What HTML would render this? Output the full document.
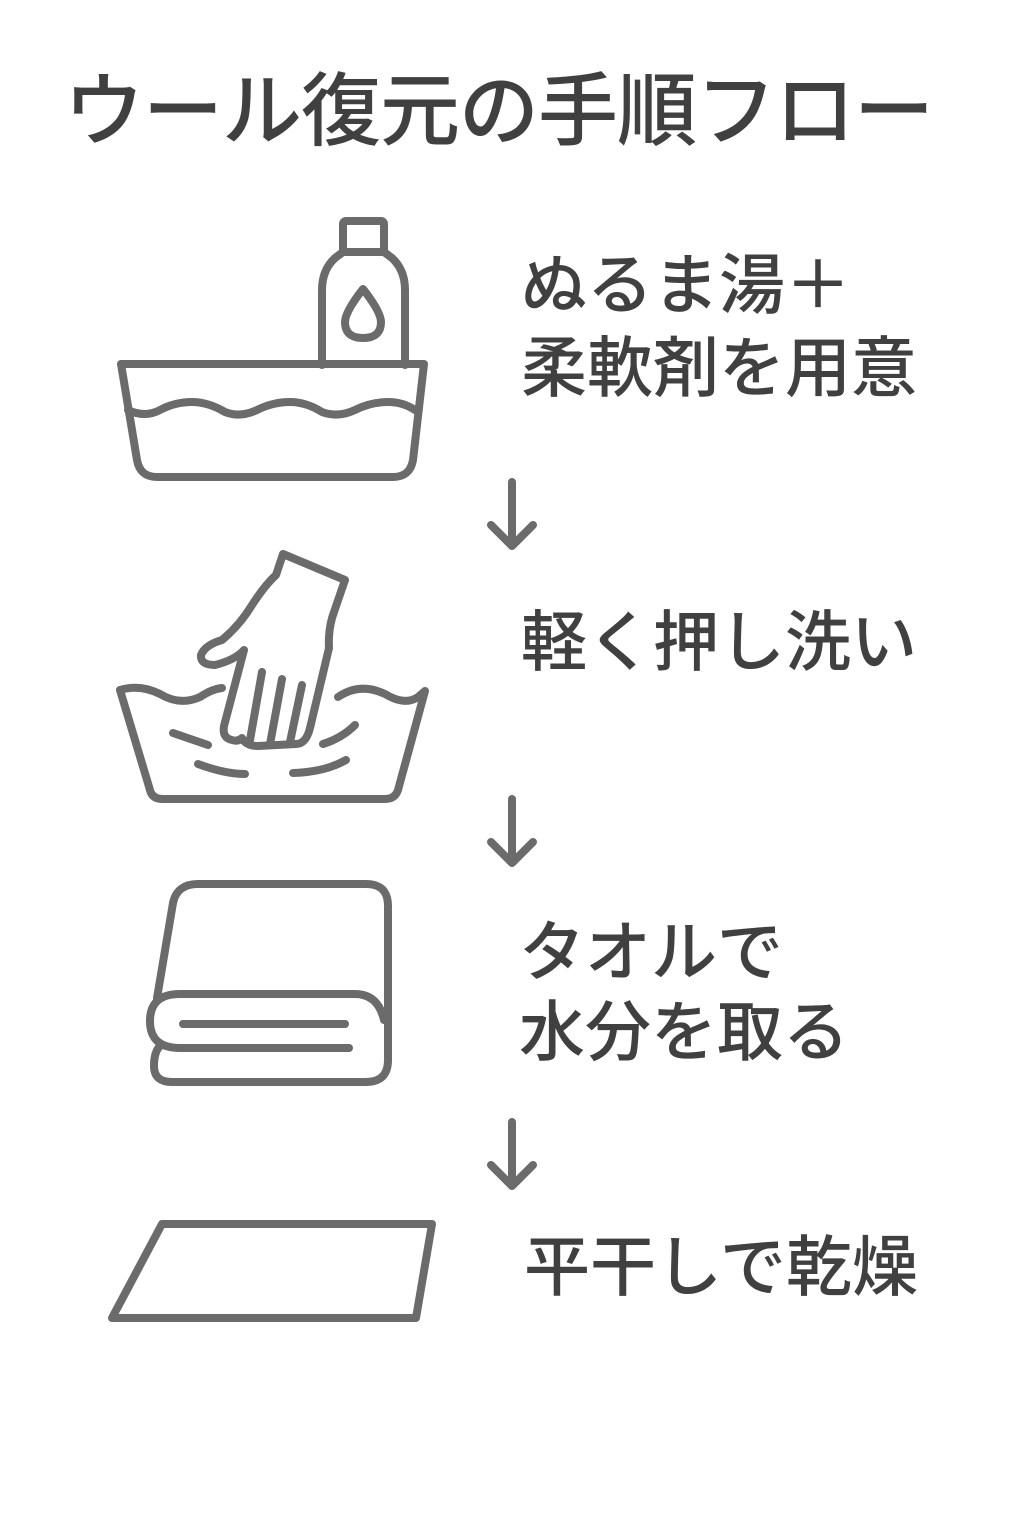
<!DOCTYPE html>
<html><head><meta charset="utf-8"><style>
html,body{margin:0;padding:0;background:#fff;}
body{width:1024px;height:1536px;position:relative;overflow:hidden;font-family:"Liberation Sans","Noto Sans CJK JP",sans-serif;color:#404040;}
.t{position:absolute;white-space:nowrap;line-height:1;font-weight:500;}
.title{left:64px;top:72px;font-size:80px;letter-spacing:-1px;}
.s{font-size:66px;letter-spacing:0px;}
svg{position:absolute;left:0;top:0;}
</style></head><body>
<div class="t title">ウール復元の手順フロー</div>
<div class="t s" style="left:521px;top:252px">ぬるま湯＋</div>
<div class="t s" style="left:521px;top:335px">柔軟剤を用意</div>
<div class="t s" style="left:521px;top:609px">軽く押し洗い</div>
<div class="t s" style="left:519px;top:919px">タオルで</div>
<div class="t s" style="left:519px;top:999px">水分を取る</div>
<div class="t s" style="left:524px;top:1234px">平干しで乾燥</div>
<svg width="1024" height="1536" viewBox="0 0 1024 1536" fill="none" stroke="#6b6b6b" stroke-width="8" stroke-linecap="round" stroke-linejoin="round">
<rect x="343" y="221" width="41" height="31" rx="3"/>
<path d="M322,365 L322,290 Q322,270 335,258 L343,252 L384,252 L392,258 Q405,270 405,290 L405,365"/>
<path d="M363,289 Q345,312 345,322 Q345,338 363,338 Q381,338 381,322 Q381,312 363,289 Z"/>
<path d="M121,364 L424,364 L413,460 Q410,477 393,477 L157,477 Q140,477 137,460 Z"/>
<path d="M128,410 Q145,418 160,410 Q175,402 192,402 Q208,402 225,412 Q240,418 257,410 Q273,402 290,402 Q306,402 322,412 Q338,418 355,410 Q371,402 388,402 Q403,402 415,410"/>
<g>
<path d="M512,482 L512,546 M491,525 L512,546 L533,525"/>
<path d="M512,799 L512,863 M491,842 L512,863 L533,842"/>
<path d="M512,1122 L512,1186 M491,1165 L512,1186 L533,1165"/>
</g>
<path d="M120,690 Q140,684 160,694 Q180,706 200,697 Q212,689 222,688"/>
<path d="M338,697 Q360,682 385,694 Q405,706 418,697 L425,691 L398,790 Q395,799 385,799 L163,799 Q152,799 150,790 L120,690"/>
<path d="M173,733 L208,745 M198,764 Q225,774 245,774 M293,773 Q325,772 346,760 M323,744 Q342,738 355,725"/>
<path d="M283,554 L345,580 L334,612 Q328,628 329,648 L310,728 Q306,744 296,744 L258,746 Q246,746 242,738 Q238,742 232,740 Q222,738 224,726 L244,650 Q235,660 215,665 Q200,665 201,655 Q205,645 222,640 Q240,625 252,605 Q265,585 276,575 Z"/>
<path d="M262,672 L250,740 M282,679 L270,744 M302,685 L290,742"/>
<path d="M157,998 L173,903 Q177,884 198,884 L366,884 Q388,884 388,906 L388,1060 Q388,1082 366,1082 L172,1082 Q154,1082 154,1066 Q154,1052 160,1046"/>
<path d="M180,994 L355,994 Q378,994 384,1020 M180,994 Q150,994 150,1021 Q150,1048 180,1048 L349,1048"/>
<path d="M183,1024 L345,1024"/>
<path d="M162,1224 L432,1224 L416,1318 L112,1318 Z"/>
</svg>
</body></html>
